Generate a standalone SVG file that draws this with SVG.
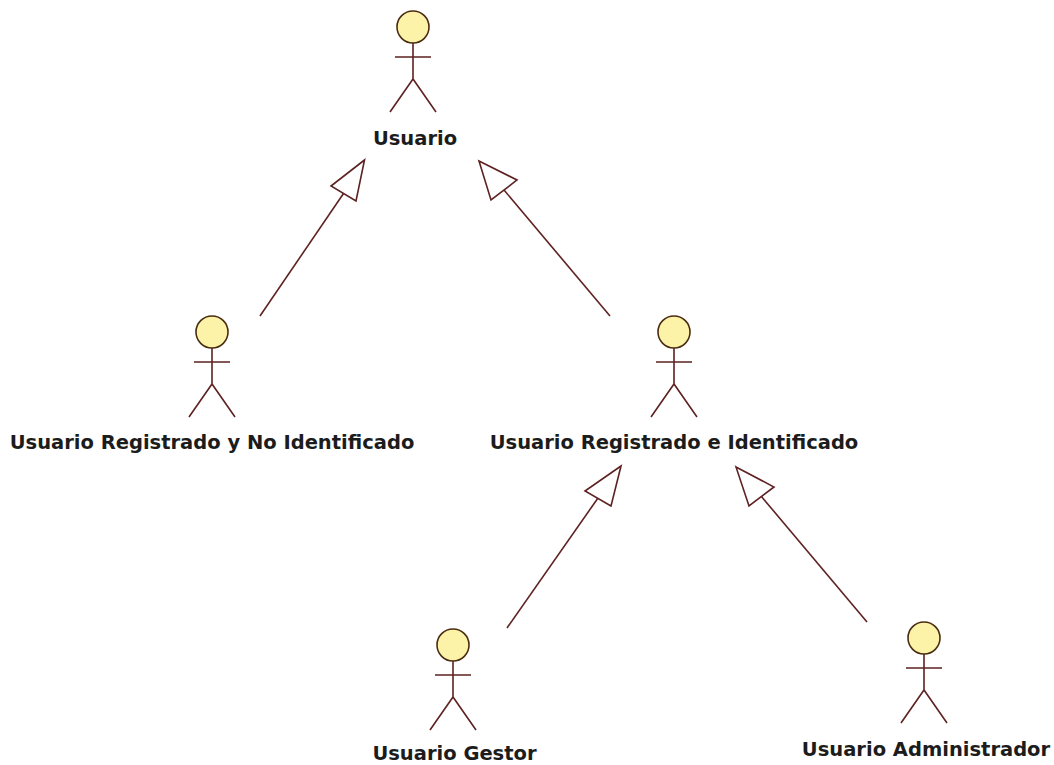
<svg xmlns="http://www.w3.org/2000/svg" width="1054" height="765" viewBox="0 0 1054 765">
<style>
.bg{fill:#ffffff}
.head{fill:#fdf3a8;stroke:#4a2c10;stroke-width:1.6}
.body{fill:none;stroke:#5e2222;stroke-width:1.6}
.label{font-family:"DejaVu Sans",sans-serif;font-weight:700;font-size:19.5px;fill:#1c1c1c;text-anchor:middle}
.edge{fill:none;stroke:#5e2222;stroke-width:1.6}
.tri{fill:#ffffff;stroke:#5e2222;stroke-width:1.6;stroke-linejoin:miter}
</style>
<defs>
<g id="actor">
<circle class="head" cx="0" cy="0" r="16"/>
<path class="body" d="M0 16V52M-18 30H18M-23 85L0 52L23 85"/>
</g>
</defs>
<rect class="bg" width="1054" height="765"/>
<g id="connectors">
<path class="edge" d="M260 316L343.500 193.500"/><polygon class="tri" points="364.500,160 331,186 356,201"/>
<path class="edge" d="M610 316L504 190"/><polygon class="tri" points="479,161 517,180 491,200"/>
<path class="edge" d="M507 628L598 498"/><polygon class="tri" points="621,466 585,491 611,506"/>
<path class="edge" d="M867 622L761 496"/><polygon class="tri" points="736,467 774,487 749,506"/>
</g>
<g id="usuario"><use href="#actor" x="413" y="27"/><text class="label" x="415" y="145">Usuario</text></g>
<g id="no-identificado"><use href="#actor" x="212" y="332"/><text class="label" x="212" y="449">Usuario Registrado y No Identificado</text></g>
<g id="identificado"><use href="#actor" x="674" y="332"/><text class="label" x="674" y="449">Usuario Registrado e Identificado</text></g>
<g id="gestor"><use href="#actor" x="453" y="645"/><text class="label" x="454.500" y="760">Usuario Gestor</text></g>
<g id="administrador"><use href="#actor" x="924" y="638"/><text class="label" x="926" y="756">Usuario Administrador</text></g>
</svg>
